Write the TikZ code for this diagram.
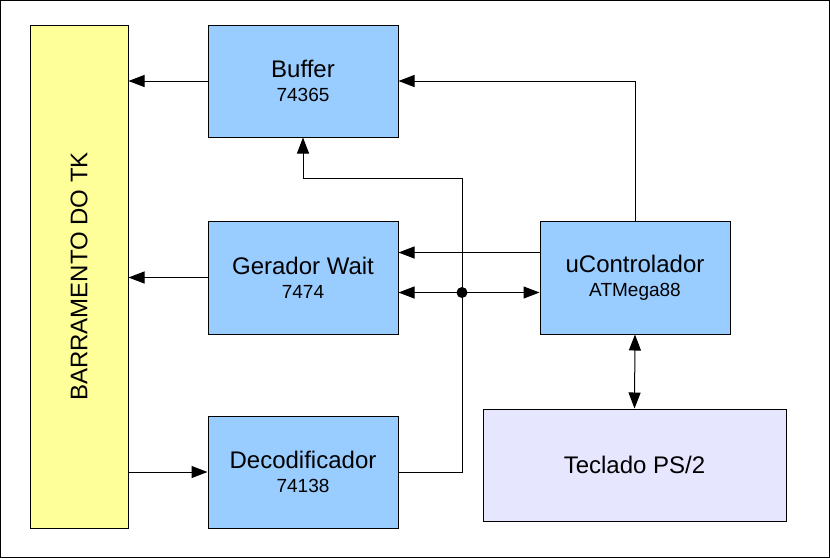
\documentclass[tikz,border=0pt]{standalone}
\usepackage{fontspec}
\setmainfont{Liberation Sans}
\usetikzlibrary{arrows.meta}

\definecolor{blockblue}{HTML}{99CCFF}
\definecolor{busyellow}{HTML}{FFFF99}
\definecolor{kbdlilac}{HTML}{E6E6FF}

\newcommand{\bigtxt}{\fontsize{24}{24}\selectfont}
\newcommand{\smalltxt}{\fontsize{19}{24}\selectfont}

\tikzset{
  block/.style={draw, line width=1pt, fill=blockblue, minimum width=190pt,
    minimum height=112pt, inner sep=0pt, align=center, font=\bigtxt},
  wire/.style={line width=1pt},
  arr/.style={wire, -{Triangle[length=16pt,width=12pt]}},
  darr/.style={wire, {Triangle[length=16pt,width=12pt]}-{Triangle[length=16pt,width=12pt]}},
  junction/.style={circle, fill, inner sep=0pt, minimum size=11pt}
}

\begin{document}
\begin{tikzpicture}[x=1pt, y=-1pt]
  \useasboundingbox (0,0) rectangle (830,558);
  \draw[line width=1pt] (0.5,0.5) rectangle (829.5,557.5);

  % blocos
  \node[draw, line width=1pt, fill=busyellow, minimum width=98pt, minimum height=503pt,
    inner sep=0pt, font=\bigtxt] (barramento) at (79,276.5) {\rotatebox{90}{BARRAMENTO DO TK}};
  \node[block] (buffer) at (303,81) {Buffer\\\smalltxt 74365};
  \node[block, minimum height=113pt] (wait) at (303,277.5) {Gerador Wait\\\smalltxt 7474};
  \node[block] (decod) at (303,472) {Decodificador\\\smalltxt 74138};
  \node[block, minimum height=113pt] (uc) at (635,277.5) {uControlador\\\smalltxt ATMega88};
  \node[block, fill=kbdlilac, minimum width=303pt] (teclado) at (634.5,465) {Teclado PS/2};

  \coordinate (bus) at (462,178);
  \node[junction] (junc) at (462,292.5) {};

  % ligacoes
  \draw[arr] (buffer.west) -- (buffer.west -| barramento.east);
  \draw[arr] (wait.west) -- (wait.west -| barramento.east);
  \draw[arr] (decod.west -| barramento.east) -- (decod.west);
  \draw[arr] (uc.north) |- (buffer.east);
  \draw[arr] (decod.east) -| (bus) -| (buffer.south);
  \draw[wire] (bus) -- (junc);
  \draw[arr] ([yshift=25pt]uc.west) -- ([yshift=25pt]wait.east);
  \draw[darr] ([yshift=-15pt]wait.east) -- ([yshift=-15pt]uc.west);
  \draw[darr] (uc.south) -- (teclado.north);
\end{tikzpicture}
\end{document}
